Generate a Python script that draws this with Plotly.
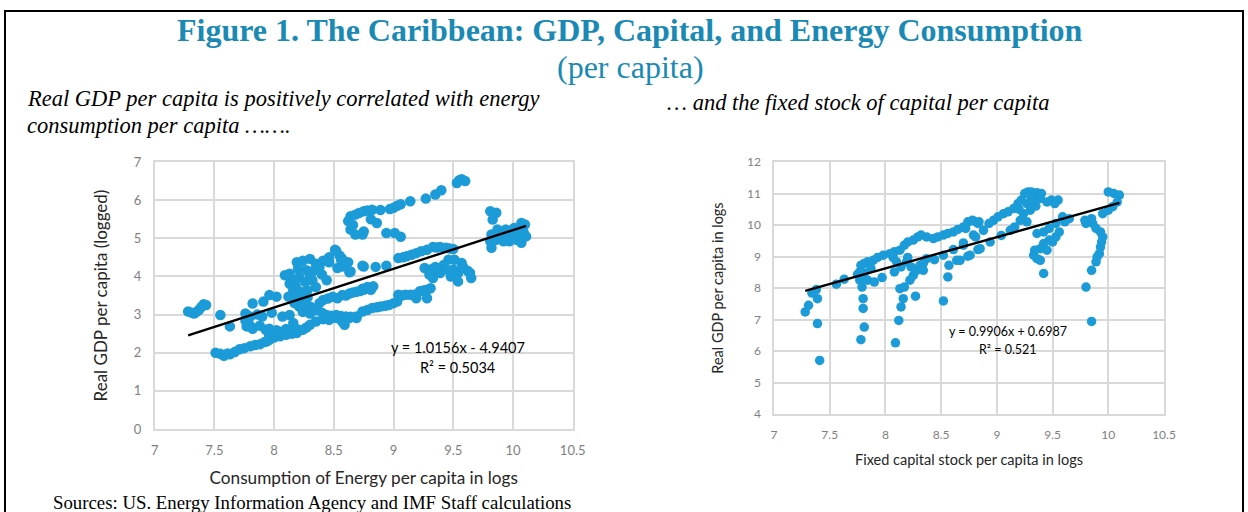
import plotly.graph_objects as go

# Left panel: energy consumption per capita (logs) vs real GDP per capita (logged)
energy_x = [
    7.28, 7.31, 7.33, 7.35, 7.37, 7.39, 7.41, 7.43, 7.55, 7.63,
    7.51, 7.55, 7.58, 7.61, 7.63, 7.67, 7.71, 7.75, 7.80, 7.84, 7.88, 7.92, 7.96, 8.00, 8.05,
    8.10, 8.15, 8.19, 8.24, 8.27, 8.30, 8.35, 8.41, 8.46, 8.52, 8.57, 8.63, 8.69, 8.59,
    7.76, 7.77, 7.80, 7.82, 7.88, 7.93, 7.96, 7.96, 8.02, 8.08, 8.13, 8.19, 7.94, 8.05, 8.10,
    7.76, 7.82, 7.86, 7.91, 7.96, 8.02, 8.07, 8.13, 8.16, 7.80, 7.90, 7.98,
    8.09, 8.13, 8.19, 8.24, 8.30, 8.35, 8.27, 8.21, 8.16, 8.19, 8.24, 8.30, 8.35, 8.32, 8.28,
    8.24, 8.30, 8.21, 8.13, 8.12, 8.15, 8.18, 8.22, 8.26, 8.30, 8.33, 8.20, 8.25, 8.17, 8.28,
    8.46, 8.52, 8.55, 8.57, 8.62, 8.46, 8.41, 8.38, 8.63, 8.74, 8.40, 8.44,
    8.41, 8.45, 8.49, 8.53, 8.57, 8.60, 8.63, 8.66, 8.69, 8.72, 8.74, 8.78, 8.81, 8.83, 8.75, 8.38,
    8.35, 8.40, 8.44, 8.48, 8.52, 8.56, 8.60, 8.64, 8.69, 8.74, 8.78,
    8.82, 8.86, 8.89, 8.93, 8.96, 9.00, 9.03, 9.04, 9.07, 9.10, 9.14, 9.17, 9.19, 9.22, 9.25,
    9.28, 9.28, 9.31,
    8.64, 8.75, 8.85, 8.94, 8.51, 8.56, 8.58, 8.53,
    9.04, 9.08, 9.11, 9.15, 9.19, 9.23, 9.28, 9.33, 9.36, 9.39, 9.44, 9.47, 9.50,
    9.26, 9.31, 9.33, 9.36, 9.39, 9.44, 9.50, 9.54, 9.54, 9.58, 9.62, 9.64, 9.65, 9.51, 9.46,
    9.57, 9.42, 9.35, 9.48, 9.30,
    8.62, 8.64, 8.64, 8.66, 8.68, 8.68, 8.71, 8.74, 8.75, 8.75, 8.78, 8.81, 8.82, 8.86, 8.89,
    8.94, 8.97, 9.00, 9.01, 9.03, 9.06, 9.06, 9.14, 9.27, 9.35, 9.40, 9.53, 9.55, 9.57, 9.60,
    9.81, 9.86, 9.83, 10.07, 10.10, 10.01, 9.94, 9.87, 9.82, 9.81, 9.82, 9.86, 9.92, 9.97,
    10.03, 10.07, 10.11, 10.06, 10.00, 9.90, 9.95, 10.04, 9.85, 10.09,
]
gdp_energy_y = [
    3.08, 3.05, 3.03, 3.07, 3.12, 3.20, 3.27, 3.25, 2.99, 2.69,
    2.00, 1.97, 1.92, 1.98, 1.96, 2.02, 2.09, 2.12, 2.17, 2.20, 2.22, 2.28, 2.34, 2.40, 2.43,
    2.47, 2.50, 2.52, 2.60, 2.66, 2.73, 2.82, 2.88, 2.86, 2.91, 2.82, 2.91, 2.91, 2.73,
    2.84, 2.69, 2.71, 2.63, 2.71, 2.60, 2.63, 2.45, 2.59, 2.50, 2.56, 2.62, 2.30, 2.55, 2.62,
    3.03, 3.29, 3.00, 3.34, 3.51, 3.47, 2.95, 2.99, 2.78, 2.95, 2.95, 3.05,
    4.03, 3.81, 4.37, 4.41, 4.46, 4.33, 4.16, 3.98, 3.64, 3.47, 3.38, 3.21, 3.72, 3.90, 3.64,
    3.07, 3.03, 3.21, 4.07, 3.47, 3.90, 3.75, 3.60, 3.85, 4.00, 4.15, 4.20, 3.25, 3.30, 3.45,
    4.50, 4.67, 4.54, 4.46, 4.37, 4.37, 4.41, 4.25, 4.11, 4.28, 4.05, 3.90,
    3.38, 3.42, 3.47, 3.43, 3.51, 3.50, 3.55, 3.58, 3.60, 3.62, 3.68, 3.72, 3.65, 3.74, 3.65, 3.30,
    3.12, 3.05, 2.99, 2.97, 2.99, 2.96, 2.95, 2.94, 2.95, 3.08, 3.12,
    3.17, 3.19, 3.21, 3.23, 3.25, 3.30, 3.34, 3.52, 3.50, 3.52, 3.52, 3.52, 3.43, 3.61, 3.63,
    3.65, 3.43, 3.69,
    4.13, 4.26, 4.25, 4.28, 4.70, 4.44, 4.26, 4.22,
    4.48, 4.50, 4.53, 4.57, 4.61, 4.66, 4.70, 4.77, 4.76, 4.77, 4.75, 4.73, 4.72,
    4.22, 4.18, 3.96, 4.10, 4.09, 4.18, 4.18, 4.09, 3.87, 4.26, 4.15, 4.09, 3.96, 4.44, 4.44,
    4.35, 4.30, 4.25, 4.00, 4.05,
    5.45, 5.58, 5.23, 5.35, 5.10, 5.62, 5.66, 5.10, 5.18, 5.71, 5.73, 5.50, 5.75, 5.40, 5.74,
    5.14, 5.77, 5.80, 5.14, 5.85, 5.04, 5.89, 5.97, 6.04, 6.15, 6.26, 6.45, 6.52, 6.55, 6.50,
    5.71, 5.67, 5.49, 5.40, 5.36, 5.27, 5.23, 5.23, 5.10, 4.92, 4.75, 4.96, 4.92, 4.92,
    4.96, 4.88, 5.05, 5.05, 5.10, 5.00, 5.05, 5.20, 5.05, 5.15,
]

# Right panel: fixed capital stock per capita (logs) vs real GDP per capita (logs)
capital_x = [
    7.28, 7.31, 7.34, 7.38, 7.39, 7.39, 7.41,
    7.56, 7.63, 7.75, 7.77, 7.78, 7.81, 7.84, 7.89, 7.93, 7.98, 8.04, 8.08, 8.13, 8.17, 8.20,
    8.25, 8.29, 8.32, 8.37, 8.43, 8.47, 8.52, 8.56, 8.61, 8.65, 8.70, 8.74, 8.79, 8.83,
    7.77, 7.79, 7.80, 7.80, 7.81, 7.78, 7.84, 7.90, 7.81, 7.87, 7.97,
    8.08, 8.14, 8.19, 8.23, 8.28, 8.31, 8.34, 8.25, 8.22, 8.17, 8.13, 8.16, 8.14, 8.12, 8.09,
    8.27, 8.34, 8.37, 8.20, 8.07, 8.10,
    8.52, 8.56, 8.57, 8.64, 8.44, 8.52, 8.61, 8.70, 8.74, 8.83, 8.79,
    8.72, 8.78, 8.84, 8.88, 8.93, 8.97, 9.01, 9.06, 9.10, 9.15, 9.19, 9.22, 9.25, 9.28, 9.31,
    9.36, 9.40, 9.39, 9.45, 9.49, 9.55, 9.52, 9.31, 9.27, 9.30, 9.24, 9.21, 9.27, 9.16, 9.12,
    9.04, 8.94, 8.85, 8.81, 8.76, 8.70, 8.67, 9.30, 9.33, 9.20, 9.35,
    9.36, 9.42, 9.47, 9.53, 9.59, 9.65, 9.61, 9.53, 9.47, 9.42, 9.39, 9.34, 9.33, 9.36, 9.39,
    9.42, 9.56, 9.50, 9.45,
    10.00, 10.05, 10.10, 10.08, 10.04, 10.00, 9.95, 9.80, 9.79, 9.85, 9.86, 9.89, 9.93, 9.95,
    9.94, 9.93, 9.92, 9.90, 9.89, 9.85, 9.80, 9.85,
]
gdp_capital_y = [
    7.24, 7.45, 7.84, 7.95, 7.66, 6.87, 5.70,
    8.12, 8.28, 8.43, 8.51, 8.72, 8.78, 8.83, 8.88, 8.97, 9.04, 9.09, 9.15, 9.20, 9.36, 9.46,
    9.52, 9.62, 9.68, 9.62, 9.57, 9.62, 9.68, 9.73, 9.78, 9.86, 9.94, 10.10, 10.13, 10.05,
    8.25, 8.03, 7.66, 7.35, 6.76, 6.36, 8.25, 8.19, 8.48, 8.62, 8.33,
    8.51, 8.67, 8.83, 8.67, 8.56, 8.72, 8.78, 8.40, 8.25, 8.03, 7.98, 7.66, 7.40, 6.97, 6.26,
    7.74, 8.56, 8.93, 8.97, 8.96, 8.83,
    7.59, 8.35, 8.72, 8.88, 8.90, 9.04, 9.22, 9.43, 9.01, 9.22, 9.68,
    9.89, 10.15, 10.10, 9.83, 10.05, 10.15, 10.26, 10.36, 10.42, 10.52, 10.68, 10.79, 11.00, 11.05, 11.05,
    11.02, 11.00, 10.84, 10.73, 10.79, 10.79, 10.68, 10.89, 10.68, 10.47, 10.36, 10.15, 10.10, 9.94, 9.83,
    9.67, 9.46, 9.25, 9.62, 9.04, 9.36, 8.88, 10.95, 10.75, 10.50, 10.60,
    9.73, 9.78, 9.89, 10.05, 10.26, 10.20, 10.10, 9.62, 9.52, 9.41, 9.25, 9.20, 9.04, 8.93, 8.88,
    8.46, 9.78, 9.46, 9.20,
    11.05, 11.00, 10.95, 10.73, 10.58, 10.47, 10.36, 10.05, 10.15, 10.20, 10.05, 9.89, 9.78, 9.62,
    9.46, 9.30, 9.09, 8.99, 8.83, 8.56, 8.03, 6.94,
]

# Excel trendline coefficients shown on the chart
energy_fit = (1.0156, -4.9407)
capital_fit = (0.9906, 0.6987)

x_ticks = [7, 7.5, 8, 8.5, 9, 9.5, 10, 10.5]
x_tick_text = ["7", "7.5", "8", "8.5", "9", "9.5", "10", "10.5"]

W, H = 1248, 512
BLUE = "#1b9bd7"
GRID = "#d9d9d9"
TEAL = "#1a8ab5"
SANS = "Lato, Open Sans, sans-serif"
SERIF = "Liberation Serif, Times New Roman, serif"


def px(v):
    return v / W


def py(v):
    return 1 - v / H


fig = go.Figure()

fig.add_trace(go.Scatter(
    x=energy_x, y=gdp_energy_y, mode="markers",
    marker=dict(color=BLUE, size=10.5, line=dict(width=0)),
    xaxis="x", yaxis="y", showlegend=False, hoverinfo="skip"))
ex = [min(energy_x), max(energy_x)]
fig.add_trace(go.Scatter(
    x=ex, y=[energy_fit[0] * v + energy_fit[1] for v in ex], mode="lines",
    line=dict(color="black", width=2.4), xaxis="x", yaxis="y", showlegend=False))

fig.add_trace(go.Scatter(
    x=capital_x, y=gdp_capital_y, mode="markers",
    marker=dict(color=BLUE, size=9.5, line=dict(width=0)),
    xaxis="x2", yaxis="y2", showlegend=False, hoverinfo="skip"))
cx = [min(capital_x), max(capital_x)]
fig.add_trace(go.Scatter(
    x=cx, y=[capital_fit[0] * v + capital_fit[1] for v in cx], mode="lines",
    line=dict(color="black", width=2.4), xaxis="x2", yaxis="y2", showlegend=False))

axis_common = dict(showgrid=True, gridcolor=GRID, gridwidth=1.5, showline=True,
                   linecolor=GRID, linewidth=1.5, mirror=True, zeroline=False,
                   ticks="", automargin=False)
tick_left = dict(family=SANS, size=13, color="#7f7f7f")
tick_right = dict(family=SANS, size=12, color="#7f7f7f")

fig.update_layout(
    width=W, height=H,
    margin=dict(l=0, r=0, t=0, b=0, autoexpand=False),
    paper_bgcolor="white", plot_bgcolor="white",
    xaxis=dict(domain=[px(154.7), px(572.7)], range=[7, 10.5], anchor="y",
               tickvals=x_ticks, ticktext=x_tick_text, ticklabelstandoff=9, tickfont=tick_left,
               title=dict(text="Consumption of Energy per capita in logs", standoff=15,
                          font=dict(family=SANS, size=17.2, color="#262626")),
               **axis_common),
    yaxis=dict(domain=[py(429), py(162)], range=[0, 7], anchor="x", dtick=1,
               ticklabelstandoff=9, tickfont=tick_left,
               title=dict(text="Real GDP per capita (logged)", standoff=22,
                          font=dict(family=SANS, size=17, color="#262626")),
               **axis_common),
    xaxis2=dict(domain=[px(774), px(1164)], range=[7, 10.5], anchor="y2",
                tickvals=x_ticks, ticktext=x_tick_text, ticklabelstandoff=9, tickfont=tick_right,
                title=dict(text="Fixed capital stock per capita in logs", standoff=14,
                           font=dict(family=SANS, size=14.5, color="#262626")),
                **axis_common),
    yaxis2=dict(domain=[py(414), py(162)], range=[4, 12], anchor="x2", dtick=1,
                ticklabelstandoff=9, tickfont=tick_right,
                title=dict(text="Real GDP per capita in logs", standoff=20,
                           font=dict(family=SANS, size=14.5, color="#262626")),
                **axis_common),
)

notes = [
    dict(x=px(630), y=py(30), text="<b>Figure 1. The Caribbean: GDP, Capital, and Energy Consumption</b>",
         font=dict(family=SERIF, size=32, color=TEAL), xanchor="center"),
    dict(x=px(630), y=py(67), text="(per capita)",
         font=dict(family=SERIF, size=32, color=TEAL), xanchor="center"),
    dict(x=px(25), y=py(98), text="<i>Real GDP per capita is positively correlated with energy</i>",
         font=dict(family=SERIF, size=22.5, color="black"), xanchor="left"),
    dict(x=px(25), y=py(125), text="<i>consumption per capita …….</i>",
         font=dict(family=SERIF, size=22.5, color="black"), xanchor="left"),
    dict(x=px(665), y=py(102), text="<i>… and the fixed stock of capital per capita</i>",
         font=dict(family=SERIF, size=22.5, color="black"), xanchor="left"),
    dict(x=px(51), y=py(502), text="Sources: US. Energy Information Agency and IMF Staff calculations",
         font=dict(family=SERIF, size=18.8, color="black"), xanchor="left"),
    dict(x=px(458), y=py(347), text="y = 1.0156x - 4.9407",
         font=dict(family=SANS, size=14.5, color="black"), xanchor="center"),
    dict(x=px(458), y=py(367), text="R² = 0.5034",
         font=dict(family=SANS, size=14.5, color="black"), xanchor="center"),
    dict(x=px(1008), y=py(331), text="y = 0.9906x + 0.6987",
         font=dict(family=SANS, size=12.5, color="black"), xanchor="center"),
    dict(x=px(1008), y=py(349), text="R² = 0.521",
         font=dict(family=SANS, size=12.5, color="black"), xanchor="center"),
]
for n in notes:
    fig.add_annotation(xref="paper", yref="paper", showarrow=False, yanchor="middle", **n)

# frame around the whole figure
fig.add_shape(type="rect", xref="paper", yref="paper",
              x0=px(5), x1=px(1243), y0=-0.05, y1=py(11),
              line=dict(color="black", width=2))

# remove the default page margin so the figure sits at the window origin
fig.write_html("out.html", config={"displayModeBar": False},
               post_script="document.body.style.margin='0';")
